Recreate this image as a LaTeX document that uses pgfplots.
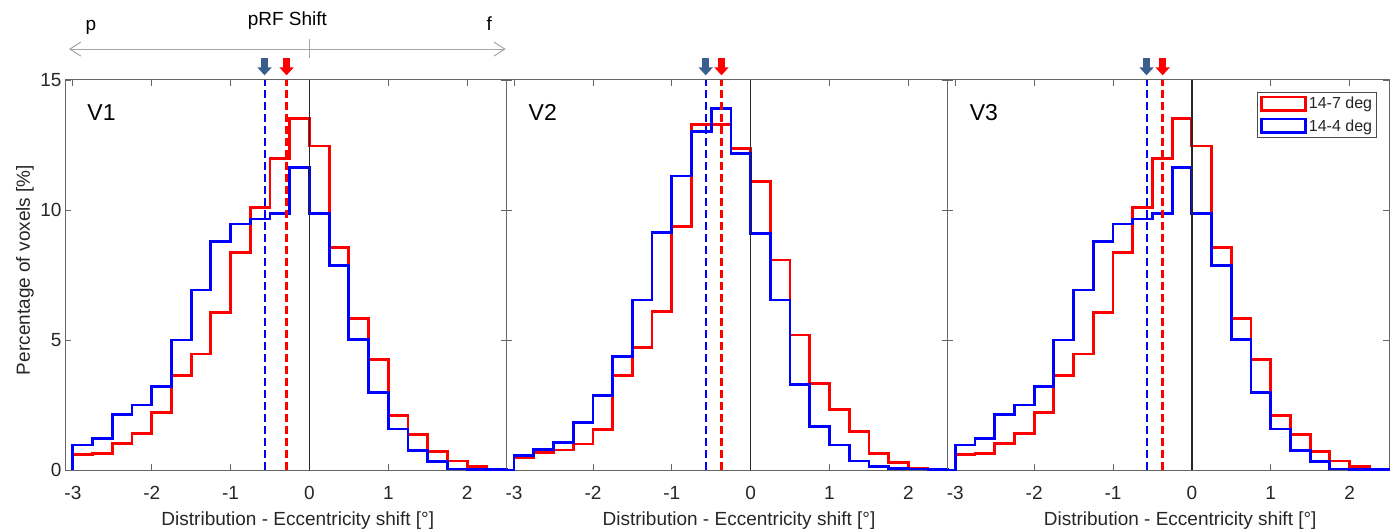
\documentclass[border=0pt]{standalone}
\usepackage{pgfplots}
\pgfplotsset{compat=1.18}
\usepackage{pgfplotstable}
\usepackage{fontspec}
\setmainfont{Liberation Sans}
\usetikzlibrary{arrows.meta}
\definecolor{arrowblue}{RGB}{58,95,140}
\definecolor{pureblue}{RGB}{0,0,255}
\definecolor{purered}{RGB}{255,0,0}

% V1 histogram (bin left edge, 14-7 deg, 14-4 deg)
\pgfplotstableread{
x r b
-3.00 0 0
-3.00 0.60 0.96
-2.75 0.64 1.22
-2.50 1.03 2.14
-2.25 1.41 2.50
-2.00 2.20 3.21
-1.75 3.62 5.00
-1.50 4.46 6.92
-1.25 6.05 8.78
-1.00 8.36 9.46
-0.75 10.09 9.65
-0.50 11.97 9.87
-0.25 13.53 11.63
0.00 12.46 9.87
0.25 8.56 7.88
0.50 5.83 5.03
0.75 4.26 2.97
1.00 2.09 1.58
1.25 1.37 0.74
1.50 0.71 0.32
1.75 0.35 0.04
2.00 0.13 0.02
2.25 0.02 0.01
2.50 0.02 0.01
2.50 0 0
}\vone

% V2 histogram
\pgfplotstableread{
x r b
-3.10 0 0
-3.00 0.47 0.55
-2.75 0.67 0.79
-2.50 0.77 1.06
-2.25 1.00 1.83
-2.00 1.56 2.88
-1.75 3.65 4.36
-1.50 4.71 6.54
-1.25 6.09 9.14
-1.00 9.36 11.31
-0.75 13.29 13.01
-0.50 13.29 13.91
-0.25 12.37 12.18
0.00 11.09 9.10
0.25 8.08 6.54
0.50 5.19 3.29
0.75 3.33 1.67
1.00 2.33 0.96
1.25 1.47 0.35
1.50 0.64 0.13
1.75 0.28 0.06
2.00 0.06 0.04
2.25 0.01 0.01
2.50 0.01 0.01
2.50 0 0
}\vtwo

% V3 histogram
\pgfplotstableread{
x r b
-3.10 0 0
-3.00 0.60 0.96
-2.75 0.64 1.22
-2.50 1.03 2.14
-2.25 1.41 2.50
-2.00 2.20 3.21
-1.75 3.62 5.00
-1.50 4.46 6.92
-1.25 6.05 8.78
-1.00 8.36 9.46
-0.75 10.09 9.65
-0.50 11.97 9.87
-0.25 13.53 11.63
0.00 12.46 9.87
0.25 8.56 7.88
0.50 5.83 5.03
0.75 4.26 2.97
1.00 2.09 1.58
1.25 1.37 0.74
1.50 0.71 0.32
1.75 0.35 0.04
2.00 0.13 0.02
2.25 0.02 0.01
2.50 0.02 0.01
2.50 0 0
}\vthree

\pgfplotsset{
  panel/.style={
    at={(#1,60pt)}, anchor=south west,
    scale only axis, width=441.6pt, height=390pt,
    xmin=-3.1, xmax=2.5, ymin=0, ymax=15,
    xtick={-3,-2,-1,0,1,2}, ytick={0,5,10,15},
    tick align=inside, major tick length=6pt,
    axis line style={black!60, line width=1pt},
    tick style={black!60, line width=0.8pt},
    xticklabel style={yshift=-13pt},
    /pgf/number format/assume math mode=true,
    ticklabel style={font=\fontsize{19}{22}\selectfont, text=black!85},
    label style={font=\fontsize{19}{22}\selectfont, text=black!85},
    xlabel={Distribution - Eccentricity shift [°]},
    xlabel style={at={(axis description cs:0.5,0)}, anchor=base, yshift=-55pt, xshift=12pt},
    clip=false,
    legend image code/.code={\draw[##1, line width=2.6pt] (0pt,-6.5pt) rectangle (44pt,7pt);},
  },
  hred/.style={purered, line width=2.8pt, const plot},
  hblue/.style={pureblue, line width=2.8pt, const plot},
  zline/.style={black!85, line width=1.5pt},
}

\begin{document}
\begin{tikzpicture}
\useasboundingbox (0,0) rectangle (1396pt,530pt);

% ---------------- V1 ----------------
\begin{axis}[panel=65pt,
  ylabel={Percentage of voxels [\%]},
  ylabel style={at={(axis description cs:0,0.513)}, anchor=base, yshift=35pt},
]
\addplot[hred] table[x=x,y=r] {\vone};
\addplot[hblue] table[x=x,y=b] {\vone};
\addplot[zline] coordinates {(0,0) (0,15)};
\addplot[pureblue, line width=2pt, dash pattern=on 8pt off 4pt] coordinates {(-0.57,0) (-0.57,15)};
\addplot[purered, line width=2.4pt, dash pattern=on 8pt off 4pt] coordinates {(-0.29,0) (-0.29,15)};
\addplot[arrowblue, line width=6.5pt, -{Triangle[length=8pt,width=14pt]}] coordinates {(-0.57,15.85) (-0.57,15.18)};
\addplot[purered, line width=6.5pt, -{Triangle[length=8pt,width=14pt]}] coordinates {(-0.29,15.85) (-0.29,15.18)};
\node[anchor=west, font=\fontsize{23}{27}\selectfont] at (axis cs:-2.86,13.75) {V1};
% pRF shift annotation
\draw[black!35, line width=1pt, {Straight Barb[length=11pt,width=14pt]}-{Straight Barb[length=11pt,width=14pt]}]
  (axis cs:-3.05,16.19) -- (axis cs:2.49,16.19);
\draw[black!35, line width=1pt] (axis cs:0,16.58) -- (axis cs:0,15.85);
\node[anchor=base, font=\fontsize{19}{22}\selectfont] at (axis cs:-2.77,16.9) {p};
\node[anchor=base, font=\fontsize{19}{22}\selectfont] at (axis cs:2.28,16.9) {f};
\node[anchor=base, font=\fontsize{19}{22}\selectfont] at (axis cs:-0.28,17.1) {pRF Shift};
\end{axis}

% ---------------- V2 ----------------
\begin{axis}[panel=506.2pt, yticklabels={}]
\addplot[hred] table[x=x,y=r] {\vtwo};
\addplot[hblue] table[x=x,y=b] {\vtwo};
\addplot[zline] coordinates {(0,0) (0,15)};
\addplot[pureblue, line width=2pt, dash pattern=on 8pt off 4pt] coordinates {(-0.57,0) (-0.57,15)};
\addplot[purered, line width=2.4pt, dash pattern=on 8pt off 4pt] coordinates {(-0.37,0) (-0.37,15)};
\addplot[arrowblue, line width=6.5pt, -{Triangle[length=8pt,width=14pt]}] coordinates {(-0.57,15.85) (-0.57,15.18)};
\addplot[purered, line width=6.5pt, -{Triangle[length=8pt,width=14pt]}] coordinates {(-0.37,15.85) (-0.37,15.18)};
\node[anchor=west, font=\fontsize{23}{27}\selectfont] at (axis cs:-2.86,13.75) {V2};
\end{axis}

% ---------------- V3 ----------------
\begin{axis}[panel=947.4pt, yticklabels={},
  legend style={at={(1,1)}, anchor=north east, xshift=-12pt, yshift=-12.5pt,
    draw=black!70, line width=0.8pt, font=\fontsize{16}{19}\selectfont,
    inner sep=2.5pt, row sep=5pt, text=black!85},
  legend cell align=left,
]
\addplot[hred] table[x=x,y=r] {\vthree};
\addplot[hblue] table[x=x,y=b] {\vthree};
\addplot[zline] coordinates {(0,0) (0,15)};
\addplot[pureblue, line width=2pt, dash pattern=on 8pt off 4pt] coordinates {(-0.575,0) (-0.575,15)};
\addplot[purered, line width=2.4pt, dash pattern=on 8pt off 4pt] coordinates {(-0.37,0) (-0.37,15)};
\addplot[arrowblue, line width=6.5pt, -{Triangle[length=8pt,width=14pt]}] coordinates {(-0.575,15.85) (-0.575,15.18)};
\addplot[purered, line width=6.5pt, -{Triangle[length=8pt,width=14pt]}] coordinates {(-0.37,15.85) (-0.37,15.18)};
\node[anchor=west, font=\fontsize{23}{27}\selectfont] at (axis cs:-2.86,13.75) {V3};
\legend{14-7 deg, 14-4 deg}
\end{axis}
\end{tikzpicture}
\end{document}
